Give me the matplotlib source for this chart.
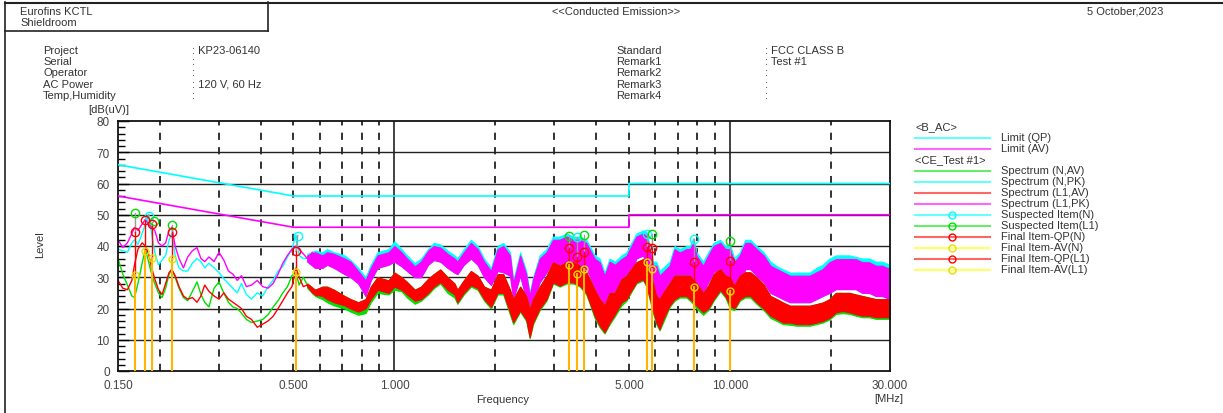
"""Conducted emission report plot (FCC class B, N / L1 lines)."""

import matplotlib
matplotlib.use("Agg")
import matplotlib.pyplot as plt
import matplotlib as mpl

# -- Limits --
LIMIT_FREQ = [0.15, 0.5, 0.5, 5.0, 5.0, 30.0]
LIMIT_QP = [66, 56, 56, 56, 60, 60]
LIMIT_AV = [56, 46, 46, 46, 50, 50]

# -- Spectrum, low band (single traces) --
FREQ_LO = [0.150, 0.155, 0.160, 0.165, 0.168, 0.172, 0.177, 0.181, 0.185, 0.189,
           0.193, 0.198, 0.203, 0.208, 0.213, 0.217, 0.222, 0.228, 0.235, 0.242,
           0.250, 0.258, 0.265, 0.272, 0.280, 0.290, 0.300, 0.310, 0.320, 0.330,
           0.340, 0.350, 0.362, 0.375, 0.390, 0.405, 0.420, 0.435, 0.450, 0.465,
           0.480, 0.495, 0.509, 0.520, 0.535, 0.550, 0.570, 0.590, 0.610]
L1_PK_LO = [42.0, 39.5, 41.0, 44.0, 46.0, 45.0, 47.0, 48.5, 47.0, 46.0,
            45.0, 41.0, 40.0, 41.0, 45.0, 46.0, 40.0, 36.0, 33.0, 36.5,
            38.5, 39.5, 36.0, 35.0, 36.5, 35.0, 38.0, 35.5, 32.0, 31.0,
            29.0, 30.5, 27.0, 27.5, 29.0, 27.0, 26.5, 28.0, 31.0, 34.5,
            37.0, 39.0, 40.0, 39.0, 37.5, 36.0, 38.0, 35.0, 35.0]
N_PK_LO = [39.0, 38.5, 38.0, 41.0, 42.0, 40.5, 44.0, 47.0, 50.0, 44.0,
           38.0, 34.0, 35.5, 37.0, 42.0, 44.0, 37.0, 33.0, 32.0, 32.0,
           34.5, 36.0, 35.0, 33.0, 34.5, 33.0, 31.5, 29.5, 28.0, 26.5,
           25.0, 28.0, 24.5, 23.0, 25.0, 24.0, 27.0, 29.0, 32.0, 33.5,
           36.5, 39.0, 43.5, 37.0, 36.0, 36.0, 36.0, 34.0, 36.0]
L1_AV_LO = [29.0, 26.5, 26.0, 29.0, 34.0, 39.0, 41.0, 40.0, 37.5, 33.0,
            29.5, 26.0, 24.5, 28.0, 31.5, 32.5, 30.5, 27.0, 24.0, 23.0,
            23.5, 22.0, 24.0, 27.5, 25.5, 24.0, 23.0, 25.0, 23.0, 22.0,
            21.0, 20.0, 17.5, 16.5, 14.0, 15.0, 16.0, 17.5, 20.0, 22.5,
            25.0, 27.0, 33.0, 30.0, 27.0, 27.5, 25.0, 24.0, 25.0]
N_AV_LO = [36.0, 31.0, 27.5, 24.0, 23.5, 28.0, 34.5, 39.0, 35.0, 31.0,
           28.0, 25.0, 23.5, 26.5, 31.0, 32.5, 30.0, 26.5, 23.5, 22.5,
           25.5, 28.5, 24.5, 22.0, 20.5, 26.5, 28.5, 25.0, 22.0, 20.5,
           20.0, 18.5, 16.5, 15.5, 16.0, 16.5, 18.0, 20.5, 22.5, 25.0,
           27.0, 30.5, 31.5, 27.5, 30.0, 27.5, 25.0, 24.0, 25.0]

# -- Spectrum, dense band (min / max envelope of the noisy traces) --
FREQ_D = [0.55, 0.58, 0.61, 0.63, 0.66, 0.71, 0.74, 0.78, 0.82, 0.85, 0.89, 0.96,
          1.00, 1.05, 1.09, 1.15, 1.20, 1.26, 1.31, 1.37, 1.44, 1.51,
          1.54, 1.61, 1.69, 1.77, 1.85, 1.94, 2.03, 2.11, 2.21, 2.26,
          2.37, 2.47, 2.53, 2.59, 2.71, 2.84, 2.97, 3.11, 3.26, 3.41,
          3.57, 3.73, 3.82, 3.95, 4.09, 4.23, 4.38, 4.54, 4.75, 4.92,
          5.03, 5.26, 5.51, 5.64, 5.90, 6.03, 6.17, 6.32, 6.61, 6.84,
          7.08, 7.42, 7.60, 7.78, 7.95, 8.32, 8.62, 8.94, 9.36, 9.69,
          10.0, 10.3, 10.7, 11.1, 11.5, 12.0, 12.6, 13.2, 13.8, 14.4,
          15.1, 15.8, 16.5, 17.3, 18.1, 18.9, 19.8, 20.7, 21.7, 22.7,
          23.7, 24.8, 26.0, 27.2, 28.4, 30.0]
PK_MIN = [35, 33, 33, 34, 33, 31, 30, 28, 24, 29, 33, 34,
          35, 33.5, 32, 30, 30, 34, 35.5, 35, 33, 31.5,
          31, 34, 36, 34, 30, 27.5, 32, 31.6, 30.5, 23,
          30.5, 23, 14.5, 21.9, 28.4, 31.6, 35, 33.7, 35, 33.7,
          33.7, 32.6, 30.5, 25.6, 23.5, 20.9, 24, 25, 29.4, 30.5,
          30.5, 36, 37, 33.7, 24, 24, 21, 23, 25, 30.5,
          29.4, 30.5, 28.4, 27, 27.3, 25, 28.4, 31.6, 32.6, 30.5,
          28.4, 25.2, 27.3, 32.6, 32.6, 30.5, 28.4, 25, 24, 23,
          22, 22, 22, 22, 23, 24, 25, 26.2, 26.2, 26.2,
          26.2, 25, 25, 24, 24, 23]
L1_PK_MAX = [37, 38, 37, 38, 37.5, 36, 35, 32, 29, 33, 37, 38,
             40, 38, 36, 33.5, 35, 38.5, 40, 39.5, 37.5, 36,
             35, 38, 41, 39, 35, 32, 39, 40, 37, 28,
             37, 31, 24, 29.4, 36, 38, 42, 42, 43, 42,
             42, 41, 38.9, 36, 34.8, 30.5, 35, 34, 35.8, 36.9,
             39, 43, 44, 43, 33.7, 33.7, 30.5, 31.6, 33.7, 39,
             37.9, 39, 39, 41, 36.9, 33.7, 37, 40, 41, 39,
             39, 34.8, 37, 41, 41, 39, 37, 33.7, 32.6, 31.6,
             30.5, 30.5, 30.5, 30.5, 31.6, 32.6, 34.8, 35.8, 35.8, 35.8,
             35.8, 34.8, 34.8, 33.7, 33.7, 32.6]
N_PK_MAX = [37.5, 38.5, 38, 39, 38, 37, 35.5, 33, 30, 34, 38, 39,
            41.5, 39, 37, 34.5, 36, 39, 41, 40.5, 38.5, 37,
            36, 39, 42, 40, 36, 33, 40, 41, 38, 29,
            38, 32, 25, 30, 37, 39, 43, 43, 44, 43,
            43, 42, 40, 37, 36, 31.5, 36, 35, 37, 38,
            40, 44, 45, 44.5, 35, 35, 32, 33, 35, 40,
            39, 40, 40, 42.5, 38, 35, 38, 41, 42, 40,
            40.5, 36, 38, 42, 42, 40, 38, 35, 33.5, 32.5,
            31.5, 31.5, 31.5, 31.5, 33, 34, 36, 37, 37, 37,
            36.5, 36, 36, 35, 35, 34]
N_AV_MIN = [26.5, 24, 23, 22, 21, 20, 19, 18, 18.5, 22, 25, 24.5,
            26, 25.5, 23.5, 21.5, 22.5, 24.5, 26.5, 28, 25, 23.5,
            21.5, 24.5, 27, 26, 22.5, 20, 24.5, 24.5, 18, 15,
            19, 16, 10.5, 15, 19.5, 22.5, 28, 27, 28, 28,
            27, 24.5, 21.5, 17, 14, 12, 15, 17.5, 21, 22.5,
            24.5, 28, 29, 27, 18.5, 15, 13, 15.5, 20.5, 22.5,
            23.5, 23.5, 22.5, 21.5, 20, 18, 19.5, 22.5, 25.5, 23.5,
            20, 19.5, 22.5, 23.5, 23.5, 21.5, 19.5, 17, 16, 15,
            14.8, 14.5, 14.5, 14.5, 15, 15.5, 16.5, 18.3, 18.5, 18.3,
            17.7, 17.2, 17.2, 16.7, 16.7, 16.7]
L1_AV_MIN = [27, 24.5, 24, 23, 22, 21, 20, 19, 20, 23, 26, 25,
             27, 26, 24.5, 22.5, 23, 25, 27, 28.5, 26, 24.5,
             22, 25, 27.5, 26.5, 23, 20.5, 25, 25, 18.8, 15.6,
             19.4, 16.5, 10.8, 15.6, 20, 23, 28.4, 27.3, 28.4, 28.4,
             27.3, 25, 21.9, 17.7, 14.5, 12.4, 15.5, 18.2, 21.9, 23,
             25, 28.4, 29.4, 27.3, 19.4, 15.6, 13.4, 16.5, 21, 23,
             24, 24, 23, 22, 20.9, 18.8, 20, 23, 26, 24,
             20.9, 20, 23, 24, 24.1, 22, 20, 17.7, 16.6, 15.5,
             15.5, 15, 15, 15, 15.5, 16, 17, 18.8, 19.2, 18.8,
             18.2, 17.7, 17.7, 17.2, 17.2, 17.2]
L1_AV_MAX = [28, 26, 27, 27, 26, 24, 23, 22, 23, 27, 30, 29,
             31.5, 30, 28.5, 26, 27, 29.5, 31, 32.5, 30, 28,
             26, 29, 32, 30.5, 27, 26, 31, 31, 26, 23,
             27, 24, 19.8, 23, 27, 30.5, 34.8, 33.7, 34.8, 34.8,
             33.7, 31.6, 29.4, 26, 23, 21, 25, 25, 29.4, 30.5,
             32, 34.8, 35.8, 33.7, 28, 24, 23, 25, 28, 30.5,
             30.5, 30.5, 30.5, 29, 28, 25, 27.3, 31, 32.6, 30.5,
             30, 27.3, 30.5, 31.6, 31.6, 30, 27.7, 24, 23, 21.9,
             20.9, 20.9, 20.9, 20.9, 21.4, 21.9, 23, 25, 25, 25,
             24.5, 24, 23.5, 23, 23, 23]

# -- Suspected items --
SUSPECT_FREQ = [0.168, 0.185, 0.192, 0.217, 0.515, 3.31, 3.49, 3.68, 5.65, 5.84, 7.83, 10.0]
SUSPECT_LEVEL = [50.5, 49.7, 48.1, 46.7, 43.3, 43.3, 43.0, 43.4, 44.0, 44.0, 42.4, 41.7]
SUSPECT_LINE = ["L1", "N", "L1", "L1", "N", "L1", "N", "L1", "N", "L1", "N", "L1"]

# -- Final items --
FINAL_FREQ = [0.168, 0.181, 0.189, 0.217, 0.509, 3.31, 3.49, 3.68, 5.65, 5.84, 7.83, 10.0]
FINAL_QP = [44.6, 48.2, 47.0, 44.6, 38.3, 39.4, 36.6, 38.0, 39.6, 39.3, 34.8, 35.3]
FINAL_AV = [30.8, 38.4, 36.2, 36.0, 31.8, 34.0, 31.0, 32.8, 34.8, 32.8, 26.8, 25.7]

XTICKS = [0.15, 0.5, 1.0, 5.0, 10.0, 30.0]
XTICK_LABELS = ["0.150", "0.500", "1.000", "5.000", "10.000", "30.000"]
DASHED_X = [0.2, 0.3, 0.4, 0.5, 0.6, 0.7, 0.8, 0.9, 2, 3, 4, 5, 6, 7, 8, 9, 20]
SOLID_X = [1.0, 10.0]

INFO_LEFT = [("Project", ": KP23-06140"), ("Serial", ":"), ("Operator", ":"),
             ("AC Power", ": 120 V, 60 Hz"), ("Temp,Humidity", ":")]
INFO_RIGHT = [("Standard", ": FCC CLASS B"), ("Remark1", ": Test #1"),
              ("Remark2", ":"), ("Remark3", ":"), ("Remark4", ":")]

CYAN, MAGENTA, RED, GREEN, YELLOW = "#00ffff", "#ff00ff", "#ff0000", "#00e000", "#e8e800"
STEM = "#ffb400"
TXT = "#333333"

W, H = 1223, 414
mpl.rcParams.update({"font.family": ["Liberation Sans", "DejaVu Sans"], "font.size": 8})

fig = plt.figure(figsize=(W / 100, H / 100), dpi=100)

# background axes in pixel coordinates for header, frame and legend
bg = fig.add_axes([0, 0, 1, 1])
bg.set_xlim(0, W)
bg.set_ylim(H, 0)
bg.axis("off")

bg.plot([5, W], [3.5, 3.5], color="#222222", lw=1.5)
bg.plot([5, 5], [3, H], color="#222222", lw=1.2)
bg.plot([268, 268], [3, 32], color="#222222", lw=1.2)
bg.plot([5, 268], [32, 32], color="#222222", lw=1.2)

bg.text(20, 12, "Eurofins KCTL", color=TXT, va="center")
bg.text(20, 23, "Shieldroom", color=TXT, va="center")
bg.text(616, 12, "<<Conducted Emission>>", color=TXT, va="center", ha="center")
bg.text(1163, 12, "5 October,2023", color=TXT, va="center", ha="right")

for i, (lab, val) in enumerate(INFO_LEFT):
    y = 51 + i * 11.2
    bg.text(43, y, lab, color=TXT, va="center")
    bg.text(192, y, val, color=TXT, va="center")
for i, (lab, val) in enumerate(INFO_RIGHT):
    y = 51 + i * 11.2
    bg.text(616, y, lab, color=TXT, va="center")
    bg.text(765, y, val, color=TXT, va="center")

bg.text(109, 110, "[dB(uV)]", color=TXT, va="center", ha="center")
bg.text(40, 245, "Level", color=TXT, va="center", ha="center", rotation=90)
bg.text(503, 400, "Frequency", color=TXT, va="center", ha="center")
bg.text(889, 399, "[MHz]", color=TXT, va="center", ha="center")

# legend
legend_rows = [
    ("head", "<B_AC>", None, None),
    ("line", "Limit (QP)", CYAN, None),
    ("line", "Limit (AV)", MAGENTA, None),
    ("head", "<CE_Test #1>", None, None),
    ("line", "Spectrum (N,AV)", GREEN, None),
    ("line", "Spectrum (N,PK)", CYAN, None),
    ("line", "Spectrum (L1,AV)", RED, None),
    ("line", "Spectrum (L1,PK)", MAGENTA, None),
    ("line", "Suspected Item(N)", CYAN, CYAN),
    ("line", "Suspected Item(L1)", GREEN, GREEN),
    ("line", "Final Item-QP(N)", RED, RED),
    ("line", "Final Item-AV(N)", "#ffff00", "#e0e000"),
    ("line", "Final Item-QP(L1)", RED, RED),
    ("line", "Final Item-AV(L1)", "#ffff00", "#e0e000"),
]
for i, (kind, label, col, mcol) in enumerate(legend_rows):
    y = 127.5 + i * 11.0
    if kind == "head":
        bg.text(915, y, label, color=TXT, va="center")
        continue
    bg.plot([915, 990], [y, y], color=col, lw=1.5, alpha=0.6)
    if mcol is not None:
        bg.plot([952], [y], marker="o", ms=5, mfc="none", mec=mcol, mew=1.0)
    bg.text(1001, y, label, color=TXT, va="center")

# main chart
ax = fig.add_axes([118 / W, 1 - 372 / H, 772 / W, 250 / H])
ax.set_xscale("log")
ax.set_xlim(0.15, 30)
ax.set_ylim(0, 80)

for yv in range(10, 80, 10):
    ax.axhline(yv, color="#222222", lw=1.0, zorder=1)
for xv in DASHED_X:
    ax.axvline(xv, color="#222222", lw=1.3, ls=(0, (4, 4)), zorder=1)
for xv in SOLID_X:
    ax.axvline(xv, color="#222222", lw=1.2, zorder=1)

# limits
ax.plot(LIMIT_FREQ, LIMIT_QP, color=CYAN, lw=1.2, zorder=3)
ax.plot(LIMIT_FREQ, LIMIT_AV, color=MAGENTA, lw=1.2, zorder=3)

# spectra, low band
ax.plot(FREQ_LO, N_PK_LO, color=CYAN, lw=1.0, zorder=2)
ax.plot(FREQ_LO, L1_PK_LO, color=MAGENTA, lw=1.0, zorder=2.1)
ax.plot(FREQ_LO, N_AV_LO, color=GREEN, lw=1.0, zorder=2.2)
ax.plot(FREQ_LO, L1_AV_LO, color=RED, lw=1.0, zorder=2.3)

# spectra, dense band
ax.fill_between(FREQ_D, PK_MIN, N_PK_MAX, color=CYAN, lw=0.8, zorder=2)
ax.fill_between(FREQ_D, PK_MIN, L1_PK_MAX, color=MAGENTA, lw=0.8, zorder=2.1)
ax.fill_between(FREQ_D, N_AV_MIN, L1_AV_MAX, color=GREEN, lw=0.8, zorder=2.2)
ax.fill_between(FREQ_D, L1_AV_MIN, L1_AV_MAX, color=RED, lw=0.8, zorder=2.3)

# stems and markers
for f, lev, line in zip(SUSPECT_FREQ, SUSPECT_LEVEL, SUSPECT_LINE):
    col = CYAN if line == "N" else GREEN
    ax.plot([f], [lev], marker="o", ms=6, mfc="none", mec=col, mew=1.0, zorder=6)
for i, f in enumerate(FINAL_FREQ):
    ax.plot([SUSPECT_FREQ[i], f], [SUSPECT_LEVEL[i], FINAL_QP[i]], color="#999999", lw=1.0, zorder=4)
    ax.plot([f, f], [FINAL_AV[i], FINAL_QP[i]], color=RED, lw=1.0, zorder=4)
    ax.plot([f, f], [0, FINAL_AV[i]], color=STEM, lw=1.5, zorder=4)
ax.plot(FINAL_FREQ, FINAL_QP, ls="none", marker="o", ms=6, mfc="none", mec=RED, mew=1.0, zorder=6)
ax.plot(FINAL_FREQ, FINAL_AV, ls="none", marker="o", ms=5, mfc="none", mec="#e0e000", mew=1.0, zorder=6)

ax.set_xticks(XTICKS)
ax.set_xticklabels(XTICK_LABELS)
ax.xaxis.set_minor_locator(mpl.ticker.NullLocator())
ax.set_yticks(range(0, 81, 10))
ax.set_yticks(range(0, 81, 2), minor=True)
ax.tick_params(axis="x", length=0, pad=6, labelcolor="#444444", labelsize=8.5)
ax.tick_params(axis="y", which="major", direction="in", length=8, width=1.0,
               pad=6, labelcolor="#444444", labelsize=8.5)
ax.tick_params(axis="y", which="minor", direction="in", length=5, width=1.0)
for s in ax.spines.values():
    s.set_color("#111111")
    s.set_linewidth(1.3)

fig.savefig("out.png", dpi=100)
